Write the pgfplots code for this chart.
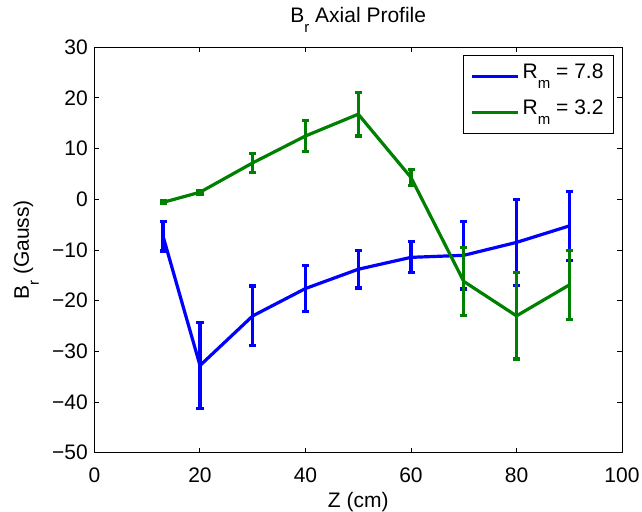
\documentclass[border=0pt]{standalone}
\usepackage{pgfplots}
\pgfplotsset{compat=1.18}
\usepackage{pgfplotstable}
\usepackage{fontspec}
\setmainfont{Liberation Sans}
\definecolor{mblue}{rgb}{0,0,1}
\definecolor{mgreen}{rgb}{0,0.5,0}
\newcommand\sub[1]{\raisebox{-5bp}{\fontsize{7.5bp}{9bp}\selectfont #1}}

\pgfplotstableread{
x   y      e
13  -7.3   2.9
20  -32.8  8.5
30  -23.0  5.9
40  -17.6  4.6
50  -13.8  3.7
60  -11.45 3.05
70  -11.05 6.65
80  -8.5   8.5
90  -5.25  6.75
}\bluedata

\pgfplotstableread{
x   y      e
13  -0.6   0.3
20  1.4    0.35
30  7.2    1.9
40  12.5   3.1
50  16.8   4.3
60  4.3    1.6
70  -16.2  6.65
80  -23.0  8.5
90  -16.9  6.8
}\greendata

\begin{document}
\fontsize{10.5bp}{12.6bp}\selectfont
\begin{tikzpicture}
\path[use as bounding box] (-47.25bp,-29.65bp) rectangle (273.75bp,226.35bp);
\begin{axis}[
  at={(0,0)}, anchor=south west, scale only axis,
  width=263.75bp, height=202.7bp,
  xmin=0, xmax=100, ymin=-50, ymax=30,
  xtick={0,20,40,60,80,100},
  xticklabels={0,20,40,60,80,100},
  ytick={-50,-40,-30,-20,-10,0,10,20,30},
  yticklabels={−50,−40,−30,−20,−10,0,10,20,30},
  tick align=inside,
  xtick pos=both, ytick pos=both,
  major tick length=2.5bp,
  tick style={black, line width=0.5bp},
  axis line style={line width=0.5bp},
  xticklabel style={anchor=base, yshift=-15bp, inner sep=0pt},
  yticklabel style={anchor=east, xshift=-3.2bp, inner sep=0pt},
  title={B\sub{r} Axial Profile},
  title style={at={(axis description cs:0.5,1)}, anchor=base, yshift=6.5bp, inner sep=0pt},
  xlabel={Z (cm)},
  xlabel style={at={(axis description cs:0.5,0)}, anchor=base, yshift=-27.5bp, inner sep=0pt},
  ylabel={B\sub{r} (Gauss)},
  ylabel style={at={(axis description cs:0,0.5)}, anchor=base, yshift=32.75bp, inner sep=0pt},
  legend cell align=left,
  legend image code/.code={\draw[#1, line width=1.6bp] (0bp,0bp) -- (23bp,0bp);},
  legend style={at={(axis description cs:1,1)}, anchor=north east, xshift=-4bp, yshift=-4bp,
    draw=black, line width=0.5bp, inner xsep=3.5bp, inner ysep=2bp, row sep=1bp,
    nodes={inner sep=1.5bp, text height=8bp, text depth=6bp}},
]
\addplot[mblue, line width=1.6bp, no markers,
  error bars/.cd, y dir=both, y explicit,
  error bar style={line width=1.6bp, mblue},
  error mark options={mblue, line width=1.6bp, mark size=1.75bp, rotate=90}]
  table[x=x, y=y, y error=e] {\bluedata};
\addlegendentry{R\sub{m} = 7.8}
\addplot[mgreen, line width=1.6bp, no markers,
  error bars/.cd, y dir=both, y explicit,
  error bar style={line width=1.6bp, mgreen},
  error mark options={mgreen, line width=1.6bp, mark size=1.75bp, rotate=90}]
  table[x=x, y=y, y error=e] {\greendata};
\addlegendentry{R\sub{m} = 3.2}
\end{axis}
\end{tikzpicture}
\end{document}
